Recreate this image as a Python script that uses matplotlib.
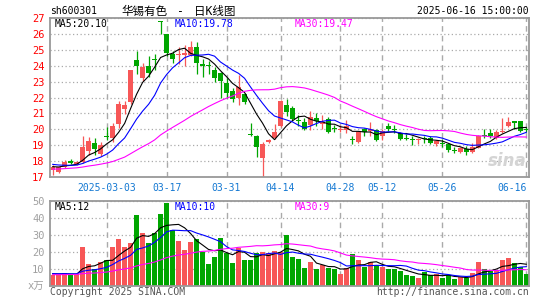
import numpy as np
import pandas as pd
import matplotlib
matplotlib.use('Agg')
import matplotlib.pyplot as plt

W, H = 545, 300

# daily candles, 2025-02-18 .. 2025-06-16
opens = [17.45, 17.30, 17.60, 18.00, 17.80, 17.95, 18.65, 19.15, 18.45, 19.60,
         19.45, 20.35, 21.25, 21.70, 24.35, 23.25, 24.00, 24.42, 26.80, 26.00,
         24.75, 24.65, 24.65, 24.70, 25.15, 24.10, 24.05, 23.70, 23.55, 22.90,
         22.40, 22.00, 22.20, 19.70, 19.60, 18.20, 19.20, 19.45, 20.20, 21.55,
         21.35, 20.60, 20.45, 20.25, 20.70, 20.35, 20.65, 20.05, 19.95, 19.95,
         19.35, 19.20, 20.05, 19.90, 19.95, 19.60, 20.20, 20.00, 19.75, 19.45,
         19.40, 19.30, 19.45, 19.45, 19.10, 19.15, 19.05, 18.70, 18.60, 18.75,
         18.55, 18.85, 19.65, 19.75, 19.45, 19.80, 20.20, 20.50, 20.50, 20.05]
highs = [17.75, 17.65, 18.10, 18.15, 18.00, 19.55, 19.50, 19.45, 19.20, 20.15,
         20.40, 21.75, 21.80, 23.75, 24.95, 24.20, 24.60, 24.75, 26.80, 26.00,
         24.90, 25.15, 25.30, 25.55, 25.50, 24.40, 24.30, 23.90, 23.60, 23.20,
         22.60, 23.40, 22.30, 20.40, 19.65, 19.20, 19.40, 20.35, 21.85, 21.90,
         21.45, 20.90, 20.70, 21.15, 21.00, 20.90, 20.75, 20.30, 20.30, 20.60,
         19.60, 19.90, 20.10, 20.45, 20.00, 20.00, 20.40, 20.30, 19.85, 19.70,
         19.55, 19.45, 19.60, 19.60, 19.35, 19.40, 19.15, 18.90, 18.90, 18.95,
         19.15, 19.65, 20.00, 20.05, 19.95, 20.70, 20.75, 20.55, 20.55, 20.15]
lows = [17.15, 17.25, 17.55, 17.80, 17.75, 17.90, 18.40, 18.40, 18.30, 19.35,
        19.20, 20.10, 20.95, 21.60, 23.45, 23.05, 23.30, 23.70, 26.00, 24.60,
        24.20, 24.10, 24.00, 24.60, 23.50, 23.30, 23.50, 23.00, 22.00, 22.00,
        21.70, 21.50, 21.60, 19.60, 18.25, 17.02, 19.15, 19.40, 20.15, 20.85,
        20.50, 20.20, 19.95, 19.95, 20.20, 20.05, 19.75, 19.80, 19.80, 19.75,
        19.05, 19.15, 19.60, 19.60, 19.25, 19.30, 19.90, 19.75, 19.30, 19.30,
        19.00, 19.10, 19.15, 19.10, 18.95, 18.90, 18.55, 18.50, 18.50, 18.40,
        18.50, 18.80, 19.45, 19.45, 19.40, 19.75, 20.15, 20.05, 19.85, 19.80]
closes = [17.65, 17.60, 17.95, 17.85, 17.95, 18.90, 19.25, 18.75, 19.00, 19.50,
          20.20, 21.60, 21.55, 23.70, 24.00, 23.90, 23.55, 24.38, 26.75, 24.80,
          24.45, 24.70, 24.80, 25.15, 24.15, 24.00, 24.00, 23.20, 23.05, 22.30,
          21.90, 22.65, 21.70, 19.65, 18.90, 19.05, 19.30, 19.85, 21.80, 21.10,
          20.65, 20.55, 20.05, 20.80, 20.50, 20.45, 19.85, 20.00, 20.00, 20.20,
          19.30, 19.85, 19.80, 20.00, 19.35, 19.90, 20.00, 19.98, 19.40, 19.40,
          19.35, 19.40, 19.40, 19.15, 19.25, 19.10, 18.70, 18.65, 18.80, 18.55,
          18.90, 19.60, 19.55, 19.60, 19.85, 19.90, 20.45, 20.40, 19.90, 19.95]
volumes = [6.3, 6.3, 7.5, 6.4, 6.9, 22.5, 13.0, 9.5, 14.1, 14.9,
           23.0, 27.4, 22.7, 25.0, 41.7, 30.9, 25.0, 30.9, 42.3, 48.7,
           32.7, 26.2, 20.8, 25.5, 27.4, 19.9, 13.0, 17.0, 28.0, 19.5,
           13.5, 22.4, 15.0, 15.0, 19.0, 20.0, 19.5, 20.2, 19.8, 30.0,
           16.9, 15.5, 10.3, 13.9, 9.7, 11.9, 10.3, 9.9, 6.9, 10.3,
           18.5, 15.1, 10.9, 13.7, 12.0, 10.7, 9.5, 9.5, 8.6, 6.4,
           5.4, 4.2, 7.7, 6.3, 6.6, 4.2, 6.0, 3.8, 5.0, 4.3,
           7.3, 13.9, 9.5, 8.7, 9.1, 15.3, 16.1, 13.6, 11.1, 6.8]

# sessions before the visible window (only feed the moving averages)
prior_closes = [17.2, 17.3, 17.1, 17.2, 17.4, 17.3, 17.2, 17.1, 17.3, 17.4,
                17.5, 17.3, 17.2, 17.4, 17.5, 17.6, 17.4, 17.3, 17.5, 17.6,
                18.0, 18.1, 17.9, 17.8, 17.9, 17.7, 17.6, 17.7, 17.6]
prior_volumes = [5.8, 6.2, 5.5, 6.0, 6.4, 5.9, 6.1, 5.7, 6.3, 6.0,
                 5.6, 6.2, 6.5, 5.9, 6.1, 6.4, 6.0, 5.8, 6.3, 6.6,
                 7.2, 6.8, 7.5, 7.0, 6.9, 7.3, 6.8, 7.4, 7.1]

holidays = ['2025-04-04', '2025-05-01', '2025-05-02', '2025-05-05', '2025-06-02']
tick_days = ['2025-03-03', '2025-03-17', '2025-03-31', '2025-04-14',
             '2025-04-28', '2025-05-12', '2025-05-26', '2025-06-16']
tick_labels = ['2025-03-03', '03-17', '03-31', '04-14', '04-28', '05-12', '05-26', '06-16']

price_ma_text = ['MA5:20.10', 'MA10:19.78', 'MA30:19.47']
vol_ma_text = ['MA5:12', 'MA10:10', 'MA30:9']

RED = '#f75757'
GREEN = '#00a600'
MA_COLORS = ['black', '#0000ff', '#ff00ff']
GRID = '#aaaaaa'
MONO = ['DejaVu Sans Mono', 'Noto Sans CJK SC']

days = pd.bdate_range('2025-02-18', '2025-06-16')
days = days[~days.isin(pd.to_datetime(holidays))]
x = np.arange(len(days))
tick_pos = days.get_indexer(pd.to_datetime(tick_days))

o = np.array(opens); c = np.array(closes)
up = c >= o
cols = np.where(up, RED, GREEN)

fig = plt.figure(figsize=(W / 100, H / 100), dpi=100)


def px_axes(l, t, r, b):
    return fig.add_axes([l / W, 1 - b / H, (r - l) / W, (b - t) / H])


def px_text(px, py, s, **kw):
    fig.text(px / W, 1 - py / H, s, va='center', family=MONO, **kw)


def moving(prior, vals, n):
    s = pd.Series(prior + vals)
    return s.rolling(n, min_periods=1).mean().values[len(prior):]


ax1 = px_axes(50, 18, 529, 177)
ax2 = px_axes(50, 201, 529, 285.5)

for ax in (ax1, ax2):
    ax.set_xlim(-0.45, 79.45)
    ax.set_axisbelow(True)
    ax.set_xticks(tick_pos)
    ax.xaxis.grid(True, linestyle=(0, (4, 3)), color=GRID, lw=1.0)
    ax.yaxis.grid(True, linestyle=(0, (1, 2)), color=GRID, lw=0.9)
    ax.tick_params(length=0)
    for sp in ax.spines.values():
        sp.set_color('#999999')
        sp.set_linewidth(1.3)

# price panel
ax1.vlines(x, lows, highs, colors=cols, lw=0.9)
ax1.bar(x, np.maximum(np.abs(c - o), 0.06), bottom=np.minimum(o, c),
        width=0.75, color=cols, linewidth=0)
for n, col in zip([5, 10, 30], MA_COLORS):
    ax1.plot(x, moving(prior_closes, closes, n), color=col, lw=0.8)
ax1.set_ylim(17, 27)
ax1.set_yticks(range(17, 28))
ax1.set_yticklabels([str(v) for v in range(17, 28)], color='red', fontsize=7.5, family=MONO)
ax1.set_xticklabels(tick_labels, color='#1478d2', fontsize=7, family=MONO)
ax1.get_xticklabels()[-1].set_ha('right')
ax1.tick_params(axis='x', pad=4)
ax1.tick_params(axis='y', pad=4)
ax1.text(0.995, 0.1, 'sina', transform=ax1.transAxes, ha='right', va='center',
         fontsize=12, fontweight='bold', style='italic', color='#d4d4d4')

# volume panel
ax2.bar(x, volumes, width=0.8, color=cols, linewidth=0)
for n, col in zip([5, 10, 30], MA_COLORS):
    ax2.plot(x, moving(prior_volumes, volumes, n), color=col, lw=0.8)
ax2.set_ylim(0, 50)
ax2.set_yticks(range(0, 51, 10))
ax2.set_yticklabels(['x万', '10', '20', '30', '40', '50'], color='#a0a0a0',
                    fontsize=7.5, family=MONO)
ax2.set_xticklabels([])
ax2.tick_params(axis='y', pad=4)

# header and labels
px_text(50, 11.5, 'sh600301', fontsize=7, color='black')
px_text(121, 11.5, '华锡有色', fontsize=8.3, color='black')
px_text(180, 11.5, '-', fontsize=8.3, color='black', ha='center')
px_text(194, 11.5, '日K线图', fontsize=8.3, color='black')
px_text(529, 11.5, '2025-06-16 15:00:00', fontsize=7, color='black', ha='right')

for px, t, col in zip([55, 175, 295], price_ma_text, MA_COLORS):
    px_text(px, 24, t, fontsize=7, color=col)
for px, t, col in zip([55, 175, 295], vol_ma_text, MA_COLORS):
    px_text(px, 207, t, fontsize=7, color=col)

px_text(50, 292, 'Copyright 2025 SINA.COM', fontsize=7, color='#555555')
px_text(529, 292, 'http://finance.sina.com.cn', fontsize=7, color='#555555', ha='right')

fig.savefig('out.png', dpi=100, facecolor='white')
